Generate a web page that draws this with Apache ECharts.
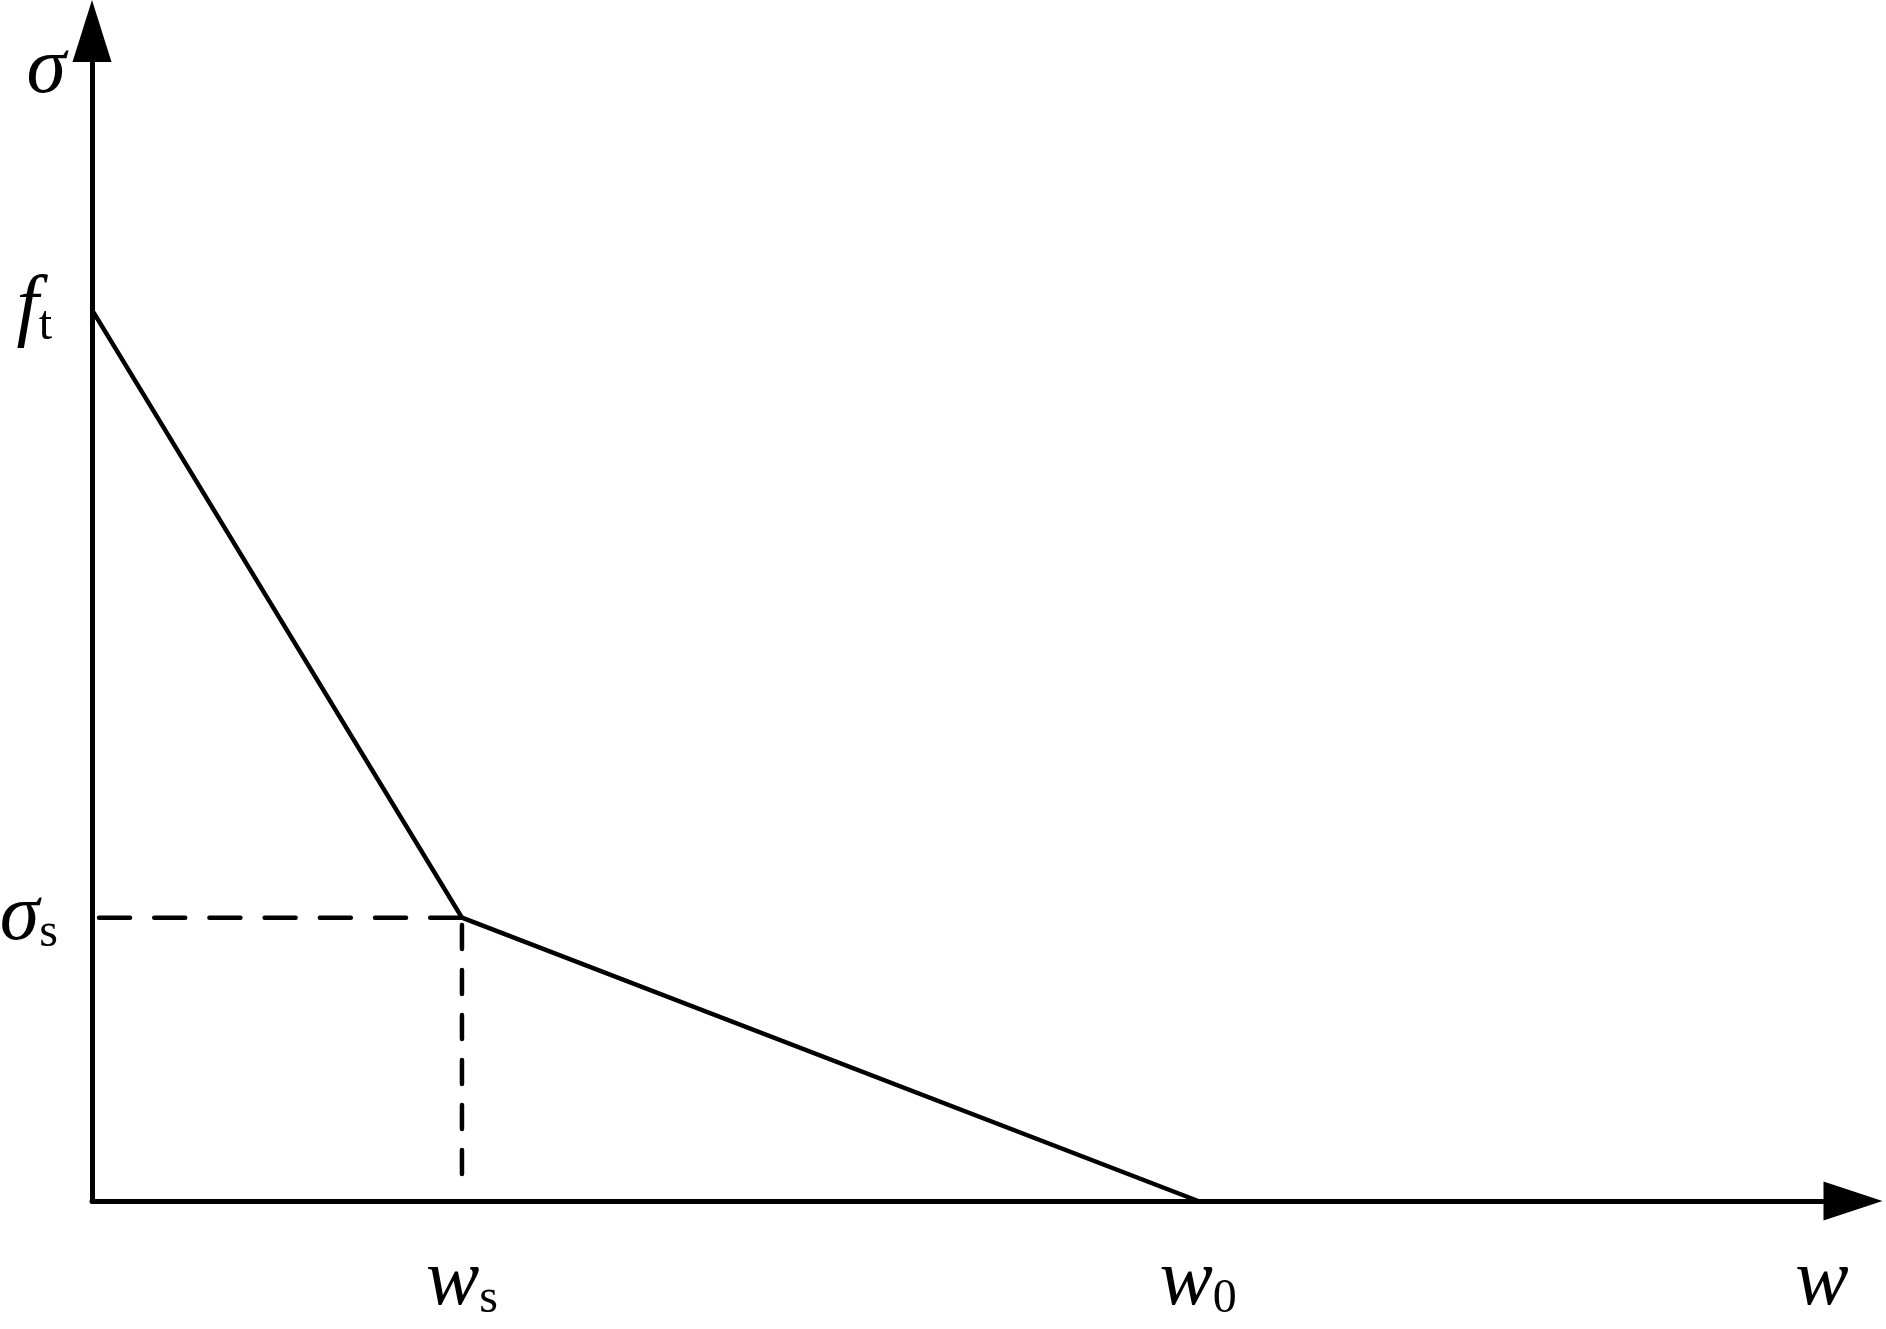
<!DOCTYPE html>
<html>
<head>
<meta charset="utf-8">
<script src="https://cdn.jsdelivr.net/npm/echarts@6/dist/echarts.min.js"></script>
<style>
html,body{margin:0;padding:0;background:#fff;}
#chart{width:1886px;height:1329px;}
</style>
</head>
<body>
<div id="chart"></div>
<script>
// Characteristic values (normalised units: w_s = 1, f_t = 1)
const wS = 1.0;
const w0 = 2.99;
const fT = 1.0;
const sigmaS = 0.318;
const xMax = 4.76;
const yMax = 1.313;

// Softening curve (bilinear)
const curveW = [0, wS, w0];
const curveSigma = [fT, sigmaS, 0];

// Guide lines
const hGuideW = [0.019, wS];
const hGuideSigma = [sigmaS, sigmaS];
const vGuideW = [wS, wS];
const vGuideSigma = [0.0303, sigmaS];

// Tick labels
const xTickValues = [wS, w0];
const xTickLabels = ['{m|w}{s|s}', '{m|w}{s|0}'];
const yTickValues = [sigmaS, fT];
const yTickLabels = ['{m|σ}{s|s}', '{m|f}{t|t}'];

const FONT = '"Liberation Serif", "Times New Roman", serif';
const rich = {
  m: {fontFamily: FONT, fontStyle: 'italic', fontSize: 80, lineHeight: 80, color: '#000'},
  s: {fontFamily: FONT, fontSize: 48, lineHeight: 48, verticalAlign: 'bottom', color: '#000'},
  t: {fontFamily: FONT, fontSize: 48, lineHeight: 48, verticalAlign: 'bottom', color: '#000', padding: [0, 6, 0, 0]}
};

function pairs(xs, ys) { return xs.map((x, i) => [x, ys[i]]); }

const chart = echarts.init(document.getElementById('chart'), null, {renderer: 'canvas'});
chart.setOption({
  animation: false,
  backgroundColor: '#fff',
  grid: {left: 92, right: 33, top: 31, bottom: 128, containLabel: false, outerBoundsMode: 'none'},
  xAxis: {
    type: 'value', min: 0, max: xMax,
    name: 'w', nameLocation: 'end', nameGap: -31, nameMoveOverlap: false,
    nameTextStyle: {fontFamily: FONT, fontStyle: 'italic', fontSize: 80, lineHeight: 80, color: '#000',
      align: 'center', verticalAlign: 'top', padding: [42, 0, 0, 0]},
    axisLine: {show: true, onZero: false, symbol: ['none', 'triangle'], symbolSize: [39, 59],
      lineStyle: {color: '#000', width: 5}},
    axisTick: {show: false},
    splitLine: {show: false},
    axisLabel: {
      show: true, margin: 42, customValues: xTickValues,
      formatter: (v) => xTickLabels[xTickValues.indexOf(v)] || '',
      rich: rich
    }
  },
  yAxis: {
    type: 'value', min: 0, max: yMax,
    name: 'σ', nameLocation: 'end', nameGap: -40, nameMoveOverlap: false,
    nameTextStyle: {fontFamily: FONT, fontStyle: 'italic', fontSize: 80, lineHeight: 80, color: '#000',
      align: 'right', verticalAlign: 'middle', padding: [0, 26, 0, 0]},
    axisLine: {show: true, onZero: false, symbol: ['none', 'triangle'], symbolSize: [39, 62],
      lineStyle: {color: '#000', width: 5}},
    axisTick: {show: false},
    splitLine: {show: false},
    axisLabel: {
      show: true, margin: 34, customValues: yTickValues,
      formatter: (v) => yTickLabels[yTickValues.indexOf(v)] || '',
      rich: rich
    }
  },
  series: [
    {
      type: 'line', data: pairs(curveW, curveSigma), symbol: 'none', silent: true,
      lineStyle: {color: '#000', width: 4.5, join: 'miter'}
    },
    {
      type: 'line', data: pairs(hGuideW, hGuideSigma), symbol: 'none', silent: true,
      lineStyle: {color: '#000', width: 4.5, type: [31, 24.2], cap: 'round'}
    },
    {
      type: 'line', data: pairs(vGuideW, vGuideSigma), symbol: 'none', silent: true,
      lineStyle: {color: '#000', width: 4.5, type: [24, 21], cap: 'round'}
    }
  ]
});
</script>
</body>
</html>
